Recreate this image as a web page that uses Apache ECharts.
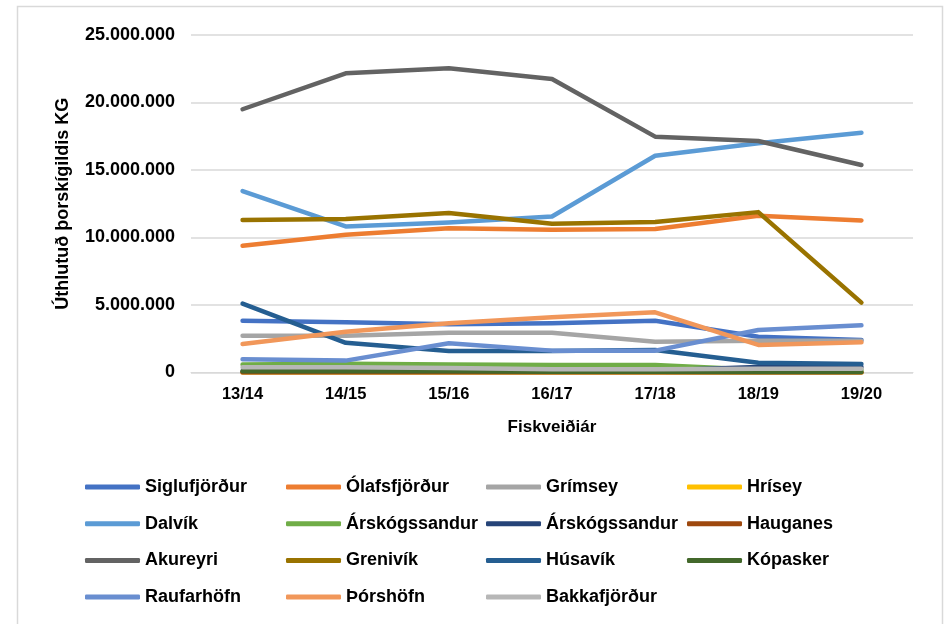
<!DOCTYPE html>
<html>
<head>
<meta charset="utf-8">
<script src="https://cdn.jsdelivr.net/npm/echarts@6/dist/echarts.min.js"></script>
<style>
  html, body { margin: 0; padding: 0; background: #fff; }
  #chart { width: 950px; height: 624px; }
</style>
</head>
<body>
<div id="chart"></div>
<script>
// Fishing years
const categories = ['13/14', '14/15', '15/16', '16/17', '17/18', '18/19', '19/20'];

// Allocated cod-equivalent catch per harbour, in kg
const siglufjordur   = [3830000, 3720000, 3570000, 3640000, 3840000, 2650000, 2410000];
const olafsfjordur   = [9390000, 10200000, 10680000, 10580000, 10630000, 11610000, 11260000];
const grimsey        = [2720000, 2720000, 2940000, 2940000, 2280000, 2350000, 2350000];
const hrisey         = [0, 0, 0, 0, 0, 0, 0];
const dalvik         = [13440000, 10820000, 11120000, 11560000, 16060000, 16980000, 17760000];
const arskogssandur1 = [600000, 650000, 600000, 550000, 550000, 200000, 200000];
const arskogssandur2 = [100000, 100000, 100000, 100000, 150000, 400000, 400000];
const hauganes       = [0, 0, 0, 0, 0, 0, 0];
const akureyri       = [19500000, 22160000, 22530000, 21740000, 17470000, 17150000, 15370000];
const grenivik       = [11290000, 11370000, 11810000, 11020000, 11140000, 11880000, 5180000];
const husavik        = [5100000, 2200000, 1600000, 1600000, 1670000, 730000, 630000];
const kopasker       = [100000, 100000, 100000, 50000, 50000, 30000, 30000];
const raufarhofn     = [980000, 880000, 2170000, 1620000, 1620000, 3150000, 3500000];
const thorshofn      = [2110000, 3020000, 3640000, 4090000, 4460000, 2040000, 2240000];
const bakkafjordur   = [380000, 380000, 330000, 240000, 240000, 280000, 280000];

// Y axis tick values
const yTicks = [0, 5000000, 10000000, 15000000, 20000000, 25000000];

const seriesDefs = [
  ['Siglufjörður', siglufjordur, '#4472C4'],
  ['Ólafsfjörður', olafsfjordur, '#ED7D31'],
  ['Grímsey', grimsey, '#A5A5A5'],
  ['Hrísey', hrisey, '#FFC000'],
  ['Dalvík', dalvik, '#5B9BD5'],
  ['Árskógssandur', arskogssandur1, '#70AD47'],
  ['Árskógssandur ', arskogssandur2, '#264478'],
  ['Hauganes', hauganes, '#9E480E'],
  ['Akureyri', akureyri, '#636363'],
  ['Grenivík', grenivik, '#997300'],
  ['Húsavík', husavik, '#255E91'],
  ['Kópasker', kopasker, '#43682B'],
  ['Raufarhöfn', raufarhofn, '#698ED0'],
  ['Þórshöfn', thorshofn, '#F1975A'],
  ['Bakkafjörður', bakkafjordur, '#B7B7B7']
];

const FONT = '"Liberation Sans", Arial, sans-serif';

const series = seriesDefs.map(([name, data, color]) => ({
  name: name,
  type: 'line',
  data: data,
  symbol: 'none',
  color: color,
  lineStyle: { width: 4.5, color: color, cap: 'round', join: 'round' },
  emphasis: { disabled: true }
}));

// Four legend columns, items laid out row by row
const colLefts = [85, 286, 486, 687];
const legends = colLefts.map((left, c) => ({
  orient: 'vertical',
  left: left,
  top: 477,
  padding: 0,
  icon: 'roundRect',
  itemWidth: 55,
  itemHeight: 5,
  itemGap: 16.7,
  selectedMode: false,
  data: seriesDefs.filter((_, i) => i % 4 === c).map(d => d[0]),
  formatter: n => n.trim(),
  textStyle: { fontFamily: FONT, fontSize: 18, fontWeight: 'bold', color: '#000', lineHeight: 20 }
}));

const chart = echarts.init(document.getElementById('chart'), null, { renderer: 'canvas' });
chart.setOption({
  animation: false,
  backgroundColor: '#fff',
  graphic: [{
    type: 'rect',
    shape: { x: 17.5, y: 6.5, width: 925, height: 700 },
    style: { fill: 'none', stroke: '#D9D9D9', lineWidth: 1.5 },
    silent: true
  }],
  grid: { left: 191, right: 37, top: 35, bottom: 251.5, containLabel: false },
  legend: legends,
  xAxis: {
    type: 'category',
    data: categories,
    boundaryGap: true,
    name: 'Fiskveiðiár',
    nameLocation: 'middle',
    nameGap: 46,
    nameTextStyle: { fontFamily: FONT, fontSize: 17, fontWeight: 'bold', color: '#000' },
    axisLine: { show: true, lineStyle: { color: '#D9D9D9', width: 1 } },
    axisTick: { show: false },
    axisLabel: { fontFamily: FONT, fontSize: 16.5, fontWeight: 'bold', color: '#000', margin: 13 }
  },
  yAxis: {
    type: 'value',
    min: 0,
    max: 25000000,
    interval: 5000000,
    name: 'Úthlutuð þorskígildis KG',
    nameLocation: 'middle',
    nameGap: 119,
    nameRotate: 90,
    nameTextStyle: { fontFamily: FONT, fontSize: 18, fontWeight: 'bold', color: '#000' },
    axisLine: { show: false },
    axisTick: { show: false },
    splitLine: { lineStyle: { color: '#D9D9D9', width: 1.5 } },
    axisLabel: {
      fontFamily: FONT, fontSize: 18, fontWeight: 'bold', color: '#000', margin: 16,
      formatter: v => yTicks.includes(v) ? v.toLocaleString('de-DE') : ''
    }
  },
  series: series
});
</script>
</body>
</html>
